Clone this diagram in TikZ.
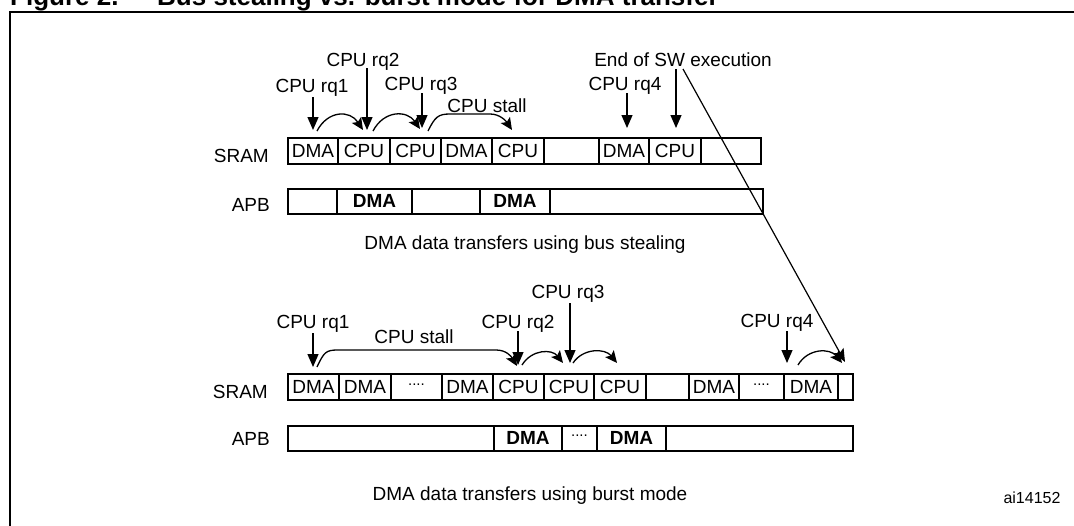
\documentclass[tikz,border=0pt]{standalone}
\usepackage{fontspec}
\setmainfont{Liberation Sans}
\usetikzlibrary{arrows.meta}
\newcommand\myDots{\raisebox{5.5pt}{\fontsize{15}{15}\selectfont....}}
\begin{document}
\begin{tikzpicture}[x=1pt,y=-1pt,
  txt/.style={font=\fontsize{19}{22}\selectfont, inner sep=0pt, anchor=base},
  rowlbl/.style={font=\fontsize{19}{22}\selectfont, inner sep=0pt, anchor=base east},
  cell/.style={draw, line width=1.9pt, inner sep=0pt, anchor=north west, font=\fontsize{19}{22}\selectfont},
  down/.style={-{Triangle[length=13pt,width=11pt]}, line width=1.3pt},
  curv/.style={-{Stealth[length=12pt,width=11pt,inset=2.5pt]}, line width=1.3pt},
  diag/.style={-{Stealth[length=13pt,width=11pt,inset=2.5pt]}, line width=1.2pt}]
\useasboundingbox (0,0) rectangle (1074,525);
% frame and clipped title
\draw[line width=2.6pt] (10,560) -- (10,12) -- (1100,12);
\node[font=\fontsize{26}{30}\selectfont\bfseries, inner sep=0pt, anchor=base west] (fig) at (10,5) {Figure 2.};
\node[font=\fontsize{26}{30}\selectfont\bfseries, inner sep=0pt, anchor=base west] (ttl) at (157,5) {Bus stealing vs. burst mode for DMA transfer};

% ---------- top: bus stealing ----------
\foreach \a/\b/\t [count=\i] in {287/337/DMA,337/389/CPU,389/440/CPU,440/491/DMA,491/543/CPU,543/598/{},598/648/DMA,648/700/CPU,700/760/{}}
  \node[cell, minimum width={(\b-\a)*1pt}, minimum height=26pt] (ts\i) at (\a,137) {\t};
\foreach \a/\b/\t [count=\i] in {287/336/{},336/411/\bfseries DMA,411/479/{},479/549/\bfseries DMA,549/762/{}}
  \node[cell, minimum width={(\b-\a)*1pt}, minimum height=25pt] (ta\i) at (\a,188) {\t};
\node[rowlbl] (tsram) at (269,162) {SRAM};
\node[rowlbl] (tapb) at (270,211) {APB};
\node[txt] (tcap) at (525,249) {DMA data transfers using bus stealing};

\node[txt] (tl1) at (312,92) {CPU rq1};
\node[txt] (tl2) at (363,66) {CPU rq2};
\node[txt] (tl3) at (421,90) {CPU rq3};
\node[txt] (tl4) at (487,112) {CPU stall};
\node[txt] (tl5) at (625,90) {CPU rq4};
\node[txt] (tl6) at (683,66) {End of SW execution};

\coordinate (ta1) at (313,130);
\coordinate (ta2) at (367,130);
\coordinate (ta3) at (422,128);
\coordinate (ta4) at (627,128);
\coordinate (ta5) at (676,128);
\draw[down] (313,97) -- (ta1);
\draw[down] (367,68) -- (ta2);
\draw[down] (422,93) -- (ta3);
\draw[down] (627,93) -- (ta4);
\draw[down] (676,69) -- (ta5);

\coordinate (tc1s) at (317,131); \coordinate (tc1e) at (363,130);
\coordinate (tc2s) at (373,131); \coordinate (tc2e) at (420,129);
\coordinate (tc3s) at (428,131); \coordinate (tc3e) at (512,130);
\draw[curv] (tc1s) .. controls (328,110) and (350,110) .. (tc1e);
\draw[curv] (tc2s) .. controls (384,110) and (407,110) .. (tc2e);
\draw[curv] (tc3s) .. controls (435,117) and (438,114) .. (450,114) -- (490,114) .. controls (500,114) and (506,121) .. (tc3e);

% long diagonal
\coordinate (dgs) at (683,69);
\coordinate (dge) at (845,362);
\draw[diag] (dgs) -- (dge);

% ---------- bottom: burst mode ----------
\foreach \a/\b/\t [count=\i] in {287/338/DMA,338/390/DMA,390/441/\myDots,441/492/DMA,492/543/CPU,543/593/CPU,593/645/CPU,645/688/{},688/738/DMA,738/783/\myDots,783/837/DMA,837/852/{}}
  \node[cell, minimum width={(\b-\a)*1pt}, minimum height=26pt] (bs\i) at (\a,373) {\t};
\foreach \a/\b/\t [count=\i] in {287/493/{},493/561/\bfseries DMA,561/596/\myDots,596/665/\bfseries DMA,665/852/{}}
  \node[cell, minimum width={(\b-\a)*1pt}, minimum height=25pt] (ba\i) at (\a,425) {\t};
\node[rowlbl] (bsram) at (268,398) {SRAM};
\node[rowlbl] (bapb) at (270,445) {APB};
\node[txt] (bcap) at (530,500) {DMA data transfers using burst mode};
\node[font=\fontsize{16}{19}\selectfont, inner sep=0pt, anchor=base] (id) at (1032,503) {ai14152};

\node[txt] (bl1) at (313,328) {CPU rq1};
\node[txt] (bl2) at (414,343) {CPU stall};
\node[txt] (bl3) at (518,328) {CPU rq2};
\node[txt] (bl4) at (568,298) {CPU rq3};
\node[txt] (bl5) at (777,327) {CPU rq4};

\coordinate (ba1) at (313,367);
\coordinate (ba2) at (518,365);
\coordinate (ba3) at (570,363);
\coordinate (ba4) at (787,363);
\draw[down] (313,333) -- (ba1);
\draw[down] (518,331) -- (ba2);
\draw[down] (570,303) -- (ba3);
\draw[down] (787,331) -- (ba4);

\coordinate (bc1s) at (317,367); \coordinate (bc1e) at (517,366);
\coordinate (bc2s) at (522,365); \coordinate (bc2e) at (563,363);
\coordinate (bc3s) at (573,363); \coordinate (bc3e) at (617,363);
\coordinate (bc4s) at (798,365); \coordinate (bc4e) at (842,363);
\draw[curv] (bc1s) .. controls (324,352) and (326,350) .. (338,350) -- (496,350) .. controls (506,350) and (511,356) .. (bc1e);
\draw[curv] (bc2s) .. controls (532,349) and (552,349) .. (bc2e);
\draw[curv] (bc3s) .. controls (583,348) and (605,348) .. (bc3e);
\draw[curv] (bc4s) .. controls (808,348) and (830,348) .. (bc4e);
\end{tikzpicture}
\end{document}
